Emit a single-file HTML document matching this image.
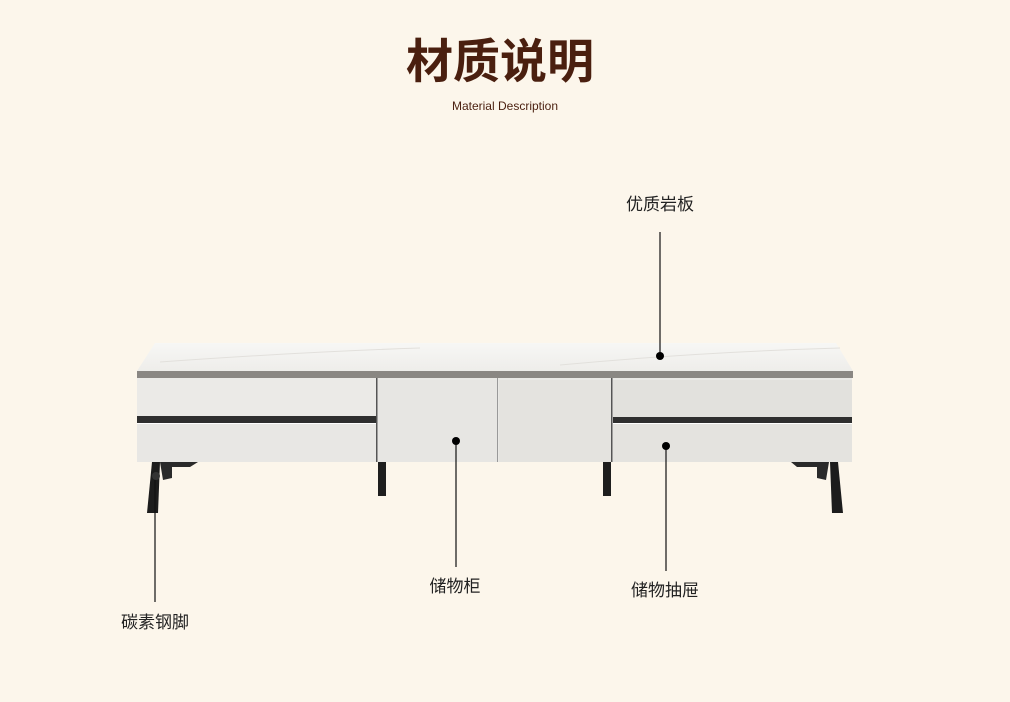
<!DOCTYPE html>
<html><head><meta charset="utf-8"><style>
html,body{margin:0;padding:0}
body{width:1010px;height:702px;background:#fcf6eb;position:relative;overflow:hidden;font-family:"Liberation Sans","Noto Sans CJK SC",sans-serif}
.t{position:absolute;left:0;width:1010px;text-align:center}
.lab{position:absolute;font-size:17px;color:#222;transform:translateX(-50%);white-space:nowrap;line-height:20px}
</style></head><body>
<div class="t" style="top:33px;left:-5px;font-size:47px;font-weight:bold;color:#4a1f0f;line-height:58px">材质说明</div>
<div class="t" style="top:98px;font-size:12px;color:#4a1f0f;line-height:16px">Material Description</div>
<svg width="1010" height="702" style="position:absolute;left:0;top:0">
<defs>
<linearGradient id="tp" x1="0" y1="0" x2="0" y2="1"><stop offset="0" stop-color="#f7f7f5"/><stop offset="1" stop-color="#eeedea"/></linearGradient>
</defs>
<polygon points="155,343 836,343 853,371 137,371" fill="url(#tp)"/>
<path d="M160,362 Q300,352 420,348 M560,365 Q700,352 840,348" stroke="#e2e0dc" stroke-width="1" fill="none"/>
<rect x="137" y="371" width="716" height="7" fill="#8a8783"/>
<rect x="137" y="378" width="715" height="84" fill="#e9e8e5"/>
<rect x="137" y="378" width="239" height="38" fill="#ebeae7"/>
<rect x="137" y="416" width="239" height="7" fill="#2f2f2f"/>
<rect x="137" y="424" width="239" height="38" fill="#e8e7e4"/>
<rect x="137" y="423" width="239" height="1" fill="#fff"/>
<rect x="376" y="378" width="1.5" height="84" fill="#555"/>
<rect x="378" y="380" width="119" height="82" fill="#e7e6e3"/>
<rect x="497" y="378" width="1" height="84" fill="#999"/>
<rect x="499" y="380" width="112" height="82" fill="#e4e3df"/>
<rect x="611" y="378" width="1.5" height="84" fill="#555"/>
<rect x="613" y="380" width="239" height="37" fill="#e2e1dd"/>
<rect x="613" y="417" width="239" height="6" fill="#2f2f2f"/>
<rect x="613" y="424" width="239" height="38" fill="#e4e3df"/>
<rect x="613" y="423" width="239" height="1" fill="#fff"/>
<polygon points="152,462 160,462 158,513 147,513" fill="#1c1c1c"/>
<polygon points="160,462 198,462 190,467 172,467 172,478 163,480" fill="#2a2a2a"/>
<rect x="378" y="462" width="8" height="34" fill="#1e1e1e"/>
<rect x="603" y="462" width="8" height="34" fill="#1e1e1e"/>
<polygon points="830,462 838,462 843,513 832,513" fill="#1c1c1c"/>
<polygon points="791,462 829,462 826,480 817,478 817,467 797,467" fill="#2a2a2a"/>
<g stroke="#111" stroke-width="1.2">
<line x1="660" y1="232" x2="660" y2="356"/>
<line x1="456" y1="441" x2="456" y2="567"/>
<line x1="666" y1="446" x2="666" y2="571"/>
<line x1="155" y1="478" x2="155" y2="602"/>
</g>
<g fill="#000">
<circle cx="660" cy="356" r="4"/>
<circle cx="456" cy="441" r="4"/>
<circle cx="666" cy="446" r="4"/>
<circle cx="156" cy="476" r="4" fill="#333"/>
</g>
</svg>
<div class="lab" style="left:660px;top:195px">优质岩板</div>
<div class="lab" style="left:455px;top:577px">储物柜</div>
<div class="lab" style="left:665px;top:581px">储物抽屉</div>
<div class="lab" style="left:155px;top:613px">碳素钢脚</div>
</body></html>
